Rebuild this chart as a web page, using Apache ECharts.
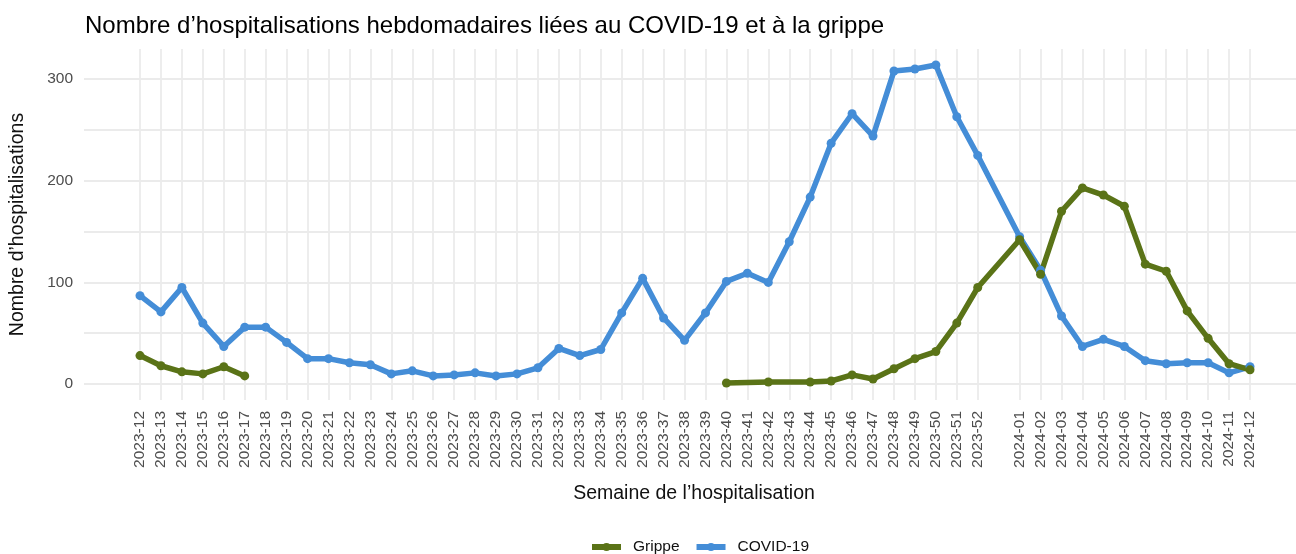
<!DOCTYPE html>
<html lang="fr">
<head>
<meta charset="utf-8">
<title>Hospitalisations COVID-19 et grippe</title>
<script src="https://cdn.jsdelivr.net/npm/echarts@6/dist/echarts.min.js"></script>
<style>
  html, body { margin: 0; padding: 0; background: #fff; }
  #chart { width: 1296px; height: 554px; }
</style>
</head>
<body>
<div id="chart"></div>
<script>
// semaines (ISO) de l'hospitalisation
const weeks = [
  '2023-12', '2023-13', '2023-14', '2023-15', '2023-16', '2023-17', '2023-18', '2023-19',
  '2023-20', '2023-21', '2023-22', '2023-23', '2023-24', '2023-25', '2023-26', '2023-27',
  '2023-28', '2023-29', '2023-30', '2023-31', '2023-32', '2023-33', '2023-34', '2023-35',
  '2023-36', '2023-37', '2023-38', '2023-39', '2023-40', '2023-41', '2023-42', '2023-43',
  '2023-44', '2023-45', '2023-46', '2023-47', '2023-48', '2023-49', '2023-50', '2023-51',
  '2023-52', '2024-01', '2024-02', '2024-03', '2024-04', '2024-05', '2024-06', '2024-07',
  '2024-08', '2024-09', '2024-10', '2024-11', '2024-12'
]

const covid = [
  87, 71, 95, 60, 37, 56, 56, 41,
  25, 25, 21, 19, 10, 13, 8, 9,
  11, 8, 10, 16, 35, 28, 34, 70,
  104, 65, 43, 70, 101, 109, 100, 140,
  184, 237, 266, 244, 308, 310, 314, 263,
  225, 145, 112, 67, 37, 44, 37, 23,
  20, 21, 21, 11, 17
]

// null = semaine absente des données grippe
const grippe = [
  28, 18, 12, 10, 17, 8, null, null,
  null, null, null, null, null, null, null, null,
  null, null, null, null, null, null, null, null,
  null, null, null, null, 1, null, 2, null,
  2, 3, 9, 5, 15, 25, 32, 60,
  95, 142, 108, 170, 193, 186, 175, 118,
  111, 72, 45, 20, 14
]

const yTicks = [0, 50, 100, 150, 200, 250, 300]
const yLabels = [0, 100, 200, 300]

const BLUE = '#448dd7'
const GREEN = '#5a7317'
const FONT = '"Liberation Sans", Arial, sans-serif'

// dans le graphique d'origine, 2024-01 est placé une semaine plus loin que 2023-52
const xPos = weeks.map((w, i) => i + (w.startsWith('2024') ? 1 : 0))
const labelAt = {}
xPos.forEach((p, i) => { labelAt[p] = weeks[i] })

const toPairs = (values, keep) => values
  .map((v, i) => [xPos[i], v])
  .filter((d, i) => d[1] !== null && keep(weeks[i]))

const covidData = toPairs(covid, () => true)
// deux saisons de grippe, non reliées entre elles
const grippeSpring = toPairs(grippe, w => w < '2023-30')
const grippeWinter = toPairs(grippe, w => w >= '2023-30')

const lineSeries = (name, data, color) => ({
  name,
  type: 'line',
  data,
  symbol: 'circle',
  symbolSize: 9,
  showSymbol: true,
  lineStyle: { width: 5.5, color },
  itemStyle: { color },
  emphasis: { disabled: true },
  animation: false
})

const chart = echarts.init(document.getElementById('chart'))

chart.setOption({
  backgroundColor: '#ffffff',
  animation: false,
  textStyle: { fontFamily: FONT },
  title: {
    text: 'Nombre d’hospitalisations hebdomadaires liées au COVID-19 et à la grippe',
    left: 80,
    top: 9,
    textStyle: { fontFamily: FONT, fontSize: 24, fontWeight: 'normal', color: '#000' }
  },
  legend: {
    data: ['Grippe', 'COVID-19'],
    left: 589,
    top: 539,
    padding: 0,
    itemWidth: 29,
    itemHeight: 10,
    itemGap: 14,
    lineStyle: { width: 6 },
    textStyle: { fontFamily: FONT, fontSize: 15.5, color: '#111', padding: [0, 0, 0, 7] }
  },
  grid: { left: 84, right: 0, top: 49, bottom: 154, containLabel: false },
  xAxis: {
    type: 'value',
    min: -2.674,
    max: 55.196,
    name: 'Semaine de l’hospitalisation',
    nameLocation: 'middle',
    nameGap: 84,
    nameTextStyle: { fontFamily: FONT, fontSize: 19.5, color: '#111', padding: [0, 0, 0, 8] },
    axisLine: { show: false },
    axisTick: { show: false, customValues: xPos },
    axisLabel: {
      customValues: xPos,
      rotate: 90,
      margin: 11,
      fontFamily: FONT,
      fontSize: 15.5,
      color: '#4d4d4d',
      formatter: v => labelAt[Math.round(v)] || ''
    },
    splitLine: { show: true, lineStyle: { color: '#ebebeb', width: 1.8 } }
  },
  yAxis: {
    type: 'value',
    min: -15.7,
    max: 329.7,
    name: 'Nombre d’hospitalisations',
    nameLocation: 'middle',
    nameGap: 56,
    nameTextStyle: { fontFamily: FONT, fontSize: 19.5, color: '#111' },
    axisLine: { show: false },
    axisTick: { show: false, customValues: yTicks },
    axisLabel: {
      customValues: yLabels,
      margin: 11,
      fontFamily: FONT,
      fontSize: 15.5,
      color: '#4d4d4d'
    },
    splitLine: { show: true, lineStyle: { color: '#ebebeb', width: 1.8 } }
  },
  series: [
    lineSeries('COVID-19', covidData, BLUE),
    lineSeries('Grippe', grippeSpring, GREEN),
    lineSeries('Grippe', grippeWinter, GREEN)
  ]
})
</script>
</body>
</html>
